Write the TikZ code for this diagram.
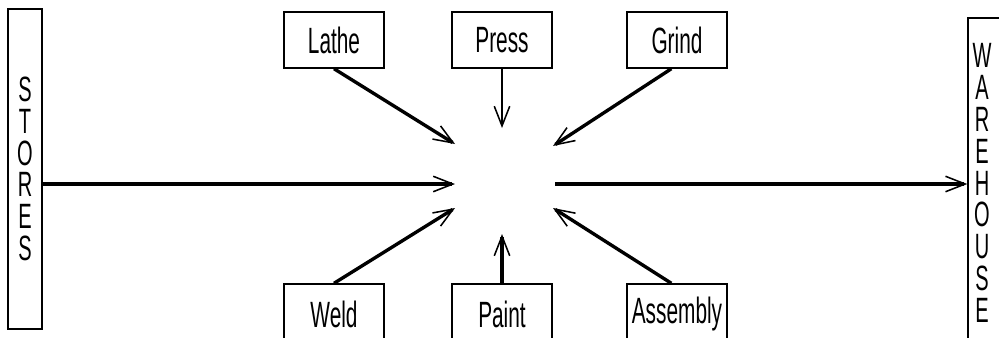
\documentclass[tikz,border=0pt]{standalone}
\usepackage{fontspec}
\setmainfont[FakeStretch=0.57]{Liberation Sans}
\usetikzlibrary{arrows.meta}
\tikzset{
    dept/.style={rectangle, draw=black, fill=white, line width=1pt, minimum width=2.5cm, minimum height=1.4cm, inner sep=0pt, font=\fontsize{26}{28}\selectfont},
    endbox/.style={rectangle, draw=black, fill=white, line width=1pt, minimum width=0.85cm, inner sep=0pt, align=center, font=\fontsize{25}{22.6}\selectfont},
    flow/.style={-{Straight Barb[length=14pt, width=11pt, line width=1.1pt]}, line width=2.4pt, black}
}
\begin{document}
\begin{tikzpicture}[x=0.025cm, y=-0.025cm]
    \useasboundingbox (0,0) rectangle (999,337);

    % Stores and warehouse
    \node[endbox, minimum height=8cm] (stores) at (25,169) {S\\T\\O\\R\\E\\S};
    \node[endbox, minimum height=8.3cm] (warehouse) at (985,184) {};
    \node[font=\fontsize{25}{22.6}\selectfont, align=center] (whtext) at (982,183) {W\\A\\R\\E\\H\\O\\U\\S\\E};

    % Departments above
    \node[dept] (lathe) at (334,40) {Lathe};
    \node[dept] (press) at (502,40) {Press};
    \node[dept] (grind) at (677,40) {Grind};

    % Departments below
    \node[dept, minimum height=1.5cm] (weld) at (334,314) {Weld};
    \node[dept, minimum height=1.5cm] (paint) at (502,314) {Paint};
    \node[dept, minimum height=1.5cm] (assembly) at (677,314) {Assembly};

    % Arrow ends round the empty centre
    \coordinate (inW) at (455,184);
    \coordinate (outE) at (555,184);
    \coordinate (inNW) at (455,144);
    \coordinate (inN) at (502,128);
    \coordinate (inNE) at (553,146);
    \coordinate (inSW) at (455,208);
    \coordinate (inS) at (502,234);
    \coordinate (inSE) at (553,208);

    % Flows
    \draw[flow] (stores.east |- inW) -- (inW);
    \draw[flow] (outE) -- (warehouse.west |- outE);
    \draw[flow] (lathe.south) -- (inNW);
    \draw[flow, line width=1.3pt] (press.south) -- (inN);
    \draw[flow] ([xshift=-4]grind.south) -- (inNE);
    \draw[flow] (weld.north) -- (inSW);
    \draw[flow] (paint.north) -- (inS);
    \draw[flow] ([xshift=-4]assembly.north) -- (inSE);
\end{tikzpicture}
\end{document}
